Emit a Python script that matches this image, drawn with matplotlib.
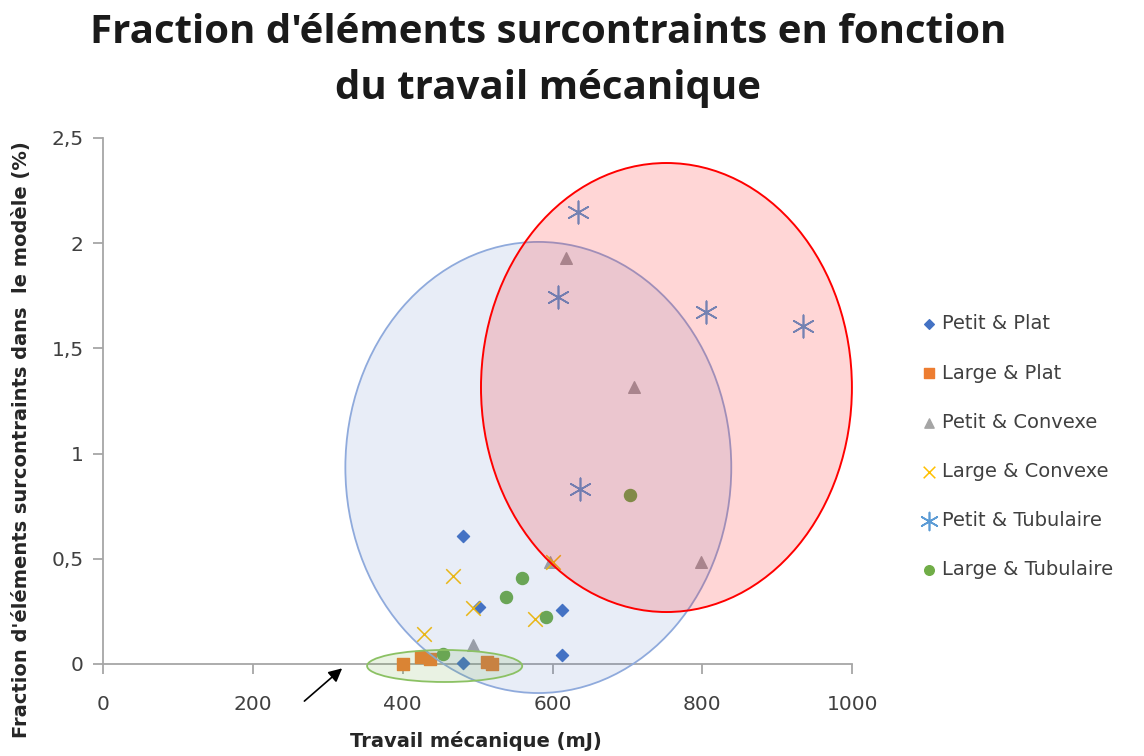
import matplotlib.pyplot as plt
from matplotlib.patches import Ellipse
from matplotlib.ticker import FuncFormatter

plt.rcParams['font.family'] = ['DejaVu Sans']

# data (x: travail mecanique in mJ, y: fraction in %)
petit_plat_x = [481, 502, 612, 612, 481]
petit_plat_y = [0.61, 0.27, 0.255, 0.045, 0.005]
large_plat_x = [400, 425, 437, 512, 519]
large_plat_y = [0.0, 0.035, 0.022, 0.008, 0.0]
petit_convexe_x = [494, 597, 798, 618, 709]
petit_convexe_y = [0.09, 0.486, 0.486, 1.93, 1.315]
large_convexe_x = [467, 494, 429, 577, 601]
large_convexe_y = [0.418, 0.265, 0.141, 0.214, 0.486]
petit_tub_x = [634, 607, 805, 934, 637]
petit_tub_y = [2.147, 1.743, 1.674, 1.608, 0.83]
large_tub_x = [559, 538, 591, 454, 704]
large_tub_y = [0.407, 0.32, 0.225, 0.046, 0.803]

x_ticks = [0, 200, 400, 600, 800, 1000]
y_ticks = [0, 0.5, 1, 1.5, 2, 2.5]

fig = plt.figure(figsize=(11.44, 7.56), dpi=100)
ax = fig.add_axes([0.090, 0.1217, 0.655, 0.6958])

kw = dict(zorder=3, clip_on=False)
ax.scatter(petit_plat_x, petit_plat_y, marker='D', s=38, color='#4472C4', label='Petit & Plat', **kw)
ax.scatter(large_plat_x, large_plat_y, marker='s', s=80, color='#ED7D31', label='Large & Plat', **kw)
ax.scatter(petit_convexe_x, petit_convexe_y, marker='^', s=70, color='#A5A5A5', label='Petit & Convexe', **kw)
ax.scatter(large_convexe_x, large_convexe_y, marker='x', s=110, color='#FFC000', linewidths=1.1,
           label='Large & Convexe', **kw)
ax.scatter(petit_tub_x, petit_tub_y, marker=(6, 2, 0), s=260, color='#5B9BD5', linewidths=1.2,
           label='Petit & Tubulaire', **kw)
ax.scatter(large_tub_x, large_tub_y, marker='o', s=75, color='#70AD47', label='Large & Tubulaire', **kw)

# shapes drawn over the chart
ax.add_patch(Ellipse((581, 0.934), 515, 2.144, facecolor=(0.267, 0.447, 0.769, 0.12),
                     edgecolor='#8FAADC', lw=1.3, zorder=4, clip_on=False))
ax.add_patch(Ellipse((752, 1.314), 495, 2.134, facecolor=(1, 0, 0, 0.16),
                     edgecolor='#FF0000', lw=1.4, zorder=5, clip_on=False))
ax.add_patch(Ellipse((456, -0.0095), 207, 0.152, facecolor=(0.44, 0.68, 0.28, 0.15),
                     edgecolor='#8BC163', lw=1.3, zorder=5, clip_on=False))
ax.annotate('', xy=(322, -0.012), xytext=(266, -0.185),
            arrowprops=dict(arrowstyle='-|>', color='black', lw=1.2, mutation_scale=20),
            annotation_clip=False)

ax.set_xlim(0, 1000)
ax.set_ylim(0, 2.5)
ax.set_xticks(x_ticks)
ax.set_yticks(y_ticks)
ax.yaxis.set_major_formatter(FuncFormatter(lambda v, p: ('%g' % v).replace('.', ',')))
for s in ['top', 'right']:
    ax.spines[s].set_visible(False)
for s in ['left', 'bottom']:
    ax.spines[s].set_color('#A6A6A6')
    ax.spines[s].set_linewidth(1.3)
ax.tick_params(colors='#A6A6A6', labelcolor='#404040', labelsize=14.5, length=7, width=1.3, pad=7)
ax.tick_params(axis='x', pad=15)

fig.text(0.479, 0.983, "Fraction d'éléments surcontraints en fonction\ndu travail mécanique",
         ha='center', va='top', fontsize=29, fontweight='bold', color='#1A1A1A', linespacing=1.57,
         family='Open Sans')
fig.text(0.416, 0.02, 'Travail mécanique (mJ)', ha='center', va='center',
         fontsize=14, fontweight='bold', color='#262626')
fig.text(0.019, 0.418, "Fraction d'éléments surcontraints dans  le modèle (%)", ha='center', va='center',
         rotation=90, fontsize=14, fontweight='bold', color='#262626')

ax.legend(loc='center left', bbox_to_anchor=(0.79, 0.409), bbox_transform=fig.transFigure,
          frameon=False, fontsize=14, labelspacing=1.55, handlelength=0.8, handletextpad=0.25,
          scatterpoints=1, markerscale=0.8, labelcolor='#404040')

fig.savefig('out.png', dpi=100)
